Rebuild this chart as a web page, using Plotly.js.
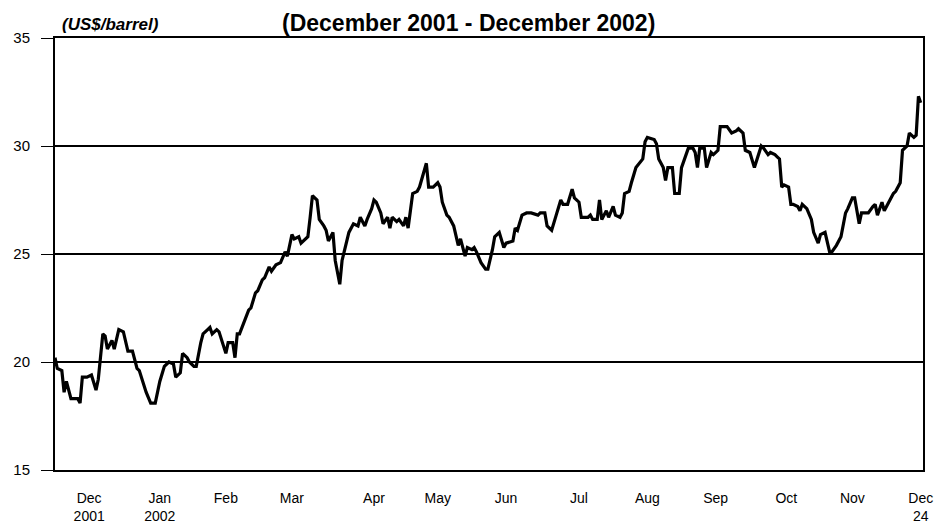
<!DOCTYPE html>
<html>
<head>
<meta charset="utf-8">
<script src="https://cdn.plot.ly/plotly-3.0.1.min.js"></script>
<style>html,body{margin:0;padding:0;background:#fff;}#chart{width:944px;height:526px;}</style>
</head>
<body>
<div id="chart"></div>
<script>
var dates = [
"2001-12-09","2001-12-10","2001-12-12","2001-12-13","2001-12-14","2001-12-15","2001-12-16","2001-12-19","2001-12-20","2001-12-21","2001-12-23","2001-12-25","2001-12-27","2001-12-28","2001-12-30","2001-12-31",
"2002-01-01","2002-01-03","2002-01-04","2002-01-06","2002-01-08","2002-01-10","2002-01-12","2002-01-14","2002-01-15","2002-01-18","2002-01-20","2002-01-22","2002-01-24","2002-01-26","2002-01-28","2002-01-30","2002-01-31",
"2002-02-02","2002-02-03","2002-02-05","2002-02-06","2002-02-08","2002-02-09","2002-02-11","2002-02-12","2002-02-14","2002-02-15","2002-02-16","2002-02-18","2002-02-19","2002-02-22","2002-02-23","2002-02-25","2002-02-26","2002-02-27","2002-02-28",
"2002-03-02","2002-03-04","2002-03-05","2002-03-07","2002-03-08","2002-03-10","2002-03-11","2002-03-13","2002-03-14","2002-03-16","2002-03-18","2002-03-20","2002-03-21","2002-03-23","2002-03-24","2002-03-26","2002-03-27","2002-03-30","2002-03-31",
"2002-04-01","2002-04-03","2002-04-04","2002-04-06","2002-04-07","2002-04-08","2002-04-10","2002-04-11","2002-04-13","2002-04-14","2002-04-17","2002-04-19","2002-04-21","2002-04-22","2002-04-24","2002-04-25","2002-04-27","2002-04-28","2002-04-29",
"2002-05-01","2002-05-02","2002-05-04","2002-05-05","2002-05-06","2002-05-08","2002-05-09","2002-05-11","2002-05-12","2002-05-13","2002-05-15","2002-05-17","2002-05-18","2002-05-21","2002-05-22","2002-05-24","2002-05-26","2002-05-27","2002-05-28","2002-05-30","2002-05-31",
"2002-06-02","2002-06-04","2002-06-05","2002-06-07","2002-06-08","2002-06-10","2002-06-11","2002-06-12","2002-06-14","2002-06-16","2002-06-17","2002-06-19","2002-06-20","2002-06-22","2002-06-24","2002-06-25","2002-06-28","2002-06-29","2002-06-30",
"2002-07-02","2002-07-04","2002-07-06","2002-07-09","2002-07-10","2002-07-12","2002-07-13","2002-07-15","2002-07-17","2002-07-18","2002-07-19","2002-07-20","2002-07-22","2002-07-24","2002-07-25","2002-07-27","2002-07-28","2002-07-31",
"2002-08-01","2002-08-02","2002-08-04","2002-08-05","2002-08-06","2002-08-08","2002-08-09","2002-08-11","2002-08-12","2002-08-14","2002-08-15","2002-08-16","2002-08-18","2002-08-19","2002-08-21","2002-08-24","2002-08-25","2002-08-26","2002-08-29","2002-08-30","2002-08-31",
"2002-09-02","2002-09-03","2002-09-04","2002-09-06","2002-09-07","2002-09-09","2002-09-10","2002-09-12","2002-09-13","2002-09-15","2002-09-16","2002-09-17","2002-09-18","2002-09-20","2002-09-21","2002-09-23","2002-09-24","2002-09-26","2002-09-27","2002-09-28","2002-09-30",
"2002-10-02","2002-10-04","2002-10-05","2002-10-07","2002-10-08","2002-10-10","2002-10-12","2002-10-15","2002-10-16","2002-10-18","2002-10-19","2002-10-21","2002-10-22","2002-10-23","2002-10-24","2002-10-25","2002-10-27","2002-10-28","2002-10-29","2002-10-31",
"2002-11-01","2002-11-02","2002-11-04","2002-11-06","2002-11-07","2002-11-09","2002-11-10","2002-11-12","2002-11-14","2002-11-15","2002-11-17","2002-11-19","2002-11-21","2002-11-22","2002-11-24","2002-11-25","2002-11-27","2002-11-28","2002-11-30",
"2002-12-01","2002-12-03","2002-12-04","2002-12-05","2002-12-07","2002-12-08","2002-12-10","2002-12-12","2002-12-13","2002-12-15","2002-12-16","2002-12-18","2002-12-19","2002-12-21","2002-12-22","2002-12-23","2002-12-24"
];
var prices = [
20.2,19.7,19.6,18.6,19.1,18.7,18.3,18.3,18.1,19.3,19.3,19.4,18.7,19.2,21.3,21.2,
20.6,21.0,20.6,21.5,21.4,20.5,20.5,19.7,19.6,18.6,18.1,18.1,19.1,19.8,20.0,19.9,19.3,
19.5,20.4,20.2,20.0,19.8,19.8,20.9,21.3,21.5,21.6,21.3,21.5,21.4,20.4,20.9,20.9,20.2,21.3,21.3,
21.9,22.4,22.5,23.2,23.3,23.8,23.9,24.4,24.2,24.5,24.6,25.1,24.9,25.9,25.7,25.8,25.5,25.8,26.7,
27.7,27.5,26.6,26.3,26.1,25.6,26.0,24.7,23.6,24.7,26.0,26.4,26.3,26.7,26.3,26.6,27.1,27.5,27.4,
26.9,26.4,26.7,26.2,26.7,26.5,26.6,26.3,26.7,26.2,27.8,27.9,28.1,29.2,28.1,28.1,28.3,28.1,27.4,26.8,26.7,
26.3,25.4,25.7,24.9,25.3,25.2,25.3,25.1,24.6,24.3,24.3,25.2,25.8,26.0,25.3,25.5,25.6,26.2,26.1,
26.8,26.9,26.9,26.8,26.9,26.9,26.3,26.1,26.8,27.2,27.5,27.3,27.3,28.0,27.6,27.4,26.7,26.7,
26.8,26.6,26.6,27.5,26.6,27.0,26.7,27.2,26.8,26.7,26.9,27.8,27.9,28.3,29.0,29.4,30.2,30.4,30.3,30.1,29.4,
29.0,28.4,29.0,29.0,27.8,27.8,29.0,29.6,29.9,29.9,29.7,29.0,29.9,29.9,29.0,29.7,29.6,29.8,30.9,30.9,30.9,
30.6,30.7,30.8,30.6,29.8,29.7,29.0,30.0,29.9,29.6,29.7,29.6,29.5,29.4,28.1,28.2,28.1,27.3,27.3,27.2,
27.0,27.3,27.1,26.6,26.0,25.5,25.9,26.0,25.1,25.1,25.4,25.8,26.9,27.1,27.6,27.6,26.4,26.9,26.9,
26.9,27.2,27.3,26.8,27.4,27.0,27.4,27.8,27.9,28.3,29.8,30.0,30.6,30.4,30.5,32.3,32.0
];
var tickDates = ["2001-12-24","2002-01-24","2002-02-22","2002-03-23","2002-04-28","2002-05-26","2002-06-25","2002-07-27","2002-08-26","2002-09-25","2002-10-26","2002-11-24","2002-12-24"];
var tickLabels = ["Dec<br>2001","Jan<br>2002","Feb","Mar","Apr","May","Jun","Jul","Aug","Sep","Oct","Nov","Dec<br>24"];
var yTicks = [15,20,25,30,35];

var font = "Liberation Sans, Arial, sans-serif";
var trace = {
  x: dates, y: prices, type: "scatter", mode: "lines",
  line: {color: "#000", width: 3.2}, hoverinfo: "x+y"
};
var layout = {
  width: 944, height: 526,
  margin: {l: 55, r: 21, t: 38, b: 56},
  paper_bgcolor: "#fff", plot_bgcolor: "#fff",
  showlegend: false,
  font: {family: font, size: 14, color: "#000"},
  xaxis: {
    type: "date", range: ["2001-12-09", "2002-12-25"],
    tickmode: "array", tickvals: tickDates, ticktext: tickLabels,
    ticks: "", showgrid: false, zeroline: false,
    showline: true, linecolor: "#000", linewidth: 2, mirror: true,
    ticklabelstandoff: 14, tickangle: 0,
    tickfont: {family: font, size: 14, color: "#000"}
  },
  yaxis: {
    range: [15, 35], tickmode: "array", tickvals: yTicks,
    ticks: "outside", ticklen: 12, tickcolor: "#000", tickwidth: 1,
    showgrid: true, gridcolor: "#000", gridwidth: 1.3, zeroline: false,
    showline: true, linecolor: "#000", linewidth: 2, mirror: true,
    ticklabelstandoff: 8,
    tickfont: {family: font, size: 15, color: "#000"}
  },
  annotations: [
    {text: "<b>(December 2001 - December 2002)</b>", xref: "paper", yref: "paper",
     x: 0.476, y: 1.0, xanchor: "center", yanchor: "bottom", showarrow: false,
     font: {family: font, size: 23, color: "#000"}},
    {text: "<b><i>(US$/barrel)</i></b>", xref: "paper", yref: "paper",
     x: 0.006, y: 1.004, xanchor: "left", yanchor: "bottom", showarrow: false,
     font: {family: font, size: 17, color: "#000"}}
  ]
};
Plotly.newPlot("chart", [trace], layout, {displayModeBar: false, staticPlot: true});
</script>
</body>
</html>
